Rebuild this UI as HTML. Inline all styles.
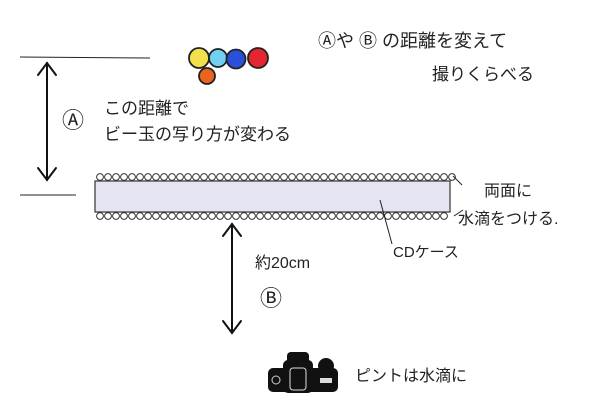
<!DOCTYPE html>
<html><head><meta charset="utf-8"><style>
html,body{margin:0;padding:0;background:#fff;}
svg{display:block;}
text{font-family:"Liberation Sans","Noto Sans CJK JP",sans-serif;fill:#222;}
</style></head><body>
<svg width="608" height="406" viewBox="0 0 608 406" xmlns="http://www.w3.org/2000/svg">
<defs>
<pattern id="bubT" x="96" y="172" width="8" height="10" patternUnits="userSpaceOnUse">
<circle cx="4" cy="5" r="3.4" fill="#fff" stroke="#333" stroke-width="1"/>
</pattern>
<pattern id="bubB" x="96" y="211" width="8" height="10" patternUnits="userSpaceOnUse">
<circle cx="4" cy="5" r="3.4" fill="#fff" stroke="#333" stroke-width="1"/>
</pattern>
</defs>
<g stroke="#222" stroke-width="1" fill="none">
<line x1="20" y1="57" x2="150" y2="58"/>
<line x1="20" y1="195" x2="76" y2="195"/>
</g>
<g stroke="#111" stroke-width="2" fill="none" stroke-linecap="round">
<line x1="47" y1="63" x2="47" y2="180"/>
<polyline points="38,75 47,63 56,75"/>
<polyline points="38,168 47,180 56,168"/>
<line x1="232" y1="224" x2="232" y2="333"/>
<polyline points="223,236 232,224 241,236"/>
<polyline points="223,321 232,333 241,321"/>
</g>
<!-- marbles -->
<circle cx="199" cy="58" r="10" fill="#f4e04a" stroke="#222" stroke-width="1.8"/>
<circle cx="218" cy="58" r="9" fill="#6fd0f0" stroke="#222" stroke-width="1.8"/>
<circle cx="236" cy="59" r="9.5" fill="#2a4fd8" stroke="#222" stroke-width="1.8"/>
<circle cx="258" cy="58" r="10" fill="#e52530" stroke="#222" stroke-width="1.8"/>
<circle cx="207" cy="76" r="8" fill="#e8641f" stroke="#222" stroke-width="1.8"/>
<!-- CD case -->
<rect x="96" y="172" width="360" height="10" fill="url(#bubT)"/>
<rect x="96" y="211" width="352" height="10" fill="url(#bubB)"/>
<rect x="95" y="181" width="355" height="31" fill="#e4e4f2" stroke="#333" stroke-width="1.2"/>
<g stroke="#222" stroke-width="1" fill="none">
<line x1="453" y1="176" x2="462" y2="185"/>
<line x1="454" y1="216" x2="463" y2="210"/>
<line x1="380" y1="200" x2="392" y2="244"/>
</g>
<!-- camera -->
<g fill="#111">
<rect x="268" y="368" width="70" height="24" rx="5"/>
<rect x="287" y="352" width="22" height="20" rx="4"/>
<rect x="283" y="360" width="30" height="33" rx="5"/>
<circle cx="326" cy="366" r="8"/>
</g>
<rect x="290" y="368" width="16" height="22" rx="3" fill="none" stroke="#ddd" stroke-width="1"/>
<rect x="320" y="378" width="12" height="5" fill="#ddd"/>
<circle cx="276" cy="380" r="4" fill="none" stroke="#ccc"/>
<!-- texts -->
<text x="318" y="47" font-size="18">Ⓐや Ⓑ の距離を変えて</text>
<text x="432" y="80" font-size="17">撮りくらべる</text>
<text x="62" y="128" font-size="22">Ⓐ</text>
<text x="104" y="114" font-size="17">この距離で</text>
<text x="104" y="140" font-size="17">ビー玉の写り方が変わる</text>
<text x="484" y="196" font-size="16">両面に</text>
<text x="458" y="224" font-size="16">水滴をつける.</text>
<text x="393" y="257" font-size="15">CDケース</text>
<text x="255" y="268" font-size="16">約20cm</text>
<text x="260" y="306" font-size="22">Ⓑ</text>
<text x="355" y="381" font-size="16">ピントは水滴に</text>
</svg>
</body></html>
